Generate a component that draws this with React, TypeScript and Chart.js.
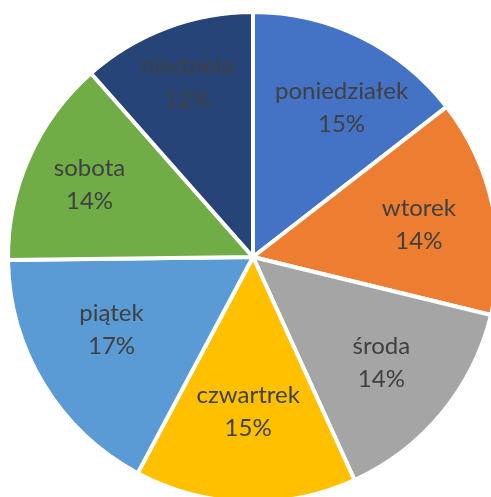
import React, { useEffect, useRef } from "react";
import { Chart, registerables } from "chart.js";

Chart.register(...registerables);

const categories = ["poniedziałek", "wtorek", "środa", "czwartrek", "piątek", "sobota", "niedziela"];
const values = [14.5, 14.3, 14.4, 14.6, 17.0, 13.7, 11.5];
const percentLabels = ["15%", "14%", "14%", "15%", "17%", "14%", "12%"];
const colors = ["#4472C4", "#ED7D31", "#A5A5A5", "#FFC000", "#5B9BD5", "#70AD47", "#264478"];
const labelRadiusFractions = [0.71, 0.69, 0.68, 0.63, 0.65, 0.73, 0.76];
const labelAngleShiftDeg = [4.5, 1, 0, 0, 4, 0, 0];

const labelPlugin = {
  id: "sliceLabels",
  afterDatasetsDraw(chart: any) {
    const ctx = chart.ctx;
    const meta = chart.getDatasetMeta(0);
    ctx.save();
    ctx.fillStyle = "#404040";
    ctx.font = "24px Lato";
    ctx.textAlign = "center";
    ctx.textBaseline = "middle";
    meta.data.forEach((arc: any, i: number) => {
      const { x, y, startAngle, endAngle, outerRadius } = arc.getProps(
        ["x", "y", "startAngle", "endAngle", "outerRadius"],
        true
      );
      const mid = (startAngle + endAngle) / 2 + (labelAngleShiftDeg[i] * Math.PI) / 180;
      const r = outerRadius * labelRadiusFractions[i];
      const cx = x + Math.cos(mid) * r;
      const cy = y + Math.sin(mid) * r;
      ctx.fillText(categories[i], cx, cy - 16.5);
      ctx.fillText(percentLabels[i], cx, cy + 16.5);
    });
    ctx.restore();
  },
};

export default function App() {
  const ref = useRef<HTMLCanvasElement>(null);
  useEffect(() => {
    document.body.style.margin = "0";
    document.body.style.overflow = "hidden";
    const chart = new Chart(ref.current!, {
      type: "pie",
      data: {
        labels: categories,
        datasets: [
          {
            data: values,
            backgroundColor: colors,
            borderColor: "#ffffff",
            borderWidth: 4,
          },
        ],
      },
      options: {
        responsive: false,
        animation: false,
        radius: 245,
        layout: { padding: 0 },
        plugins: {
          legend: { display: false },
          tooltip: { enabled: false },
        },
      },
      plugins: [labelPlugin],
    });
    return () => chart.destroy();
  }, []);
  return (
    <div style={{ position: "absolute", left: 0, top: 0, width: 491, height: 497, overflow: "hidden" }}>
      <canvas ref={ref} width={506} height={514} style={{ display: "block" }} />
    </div>
  );
}
